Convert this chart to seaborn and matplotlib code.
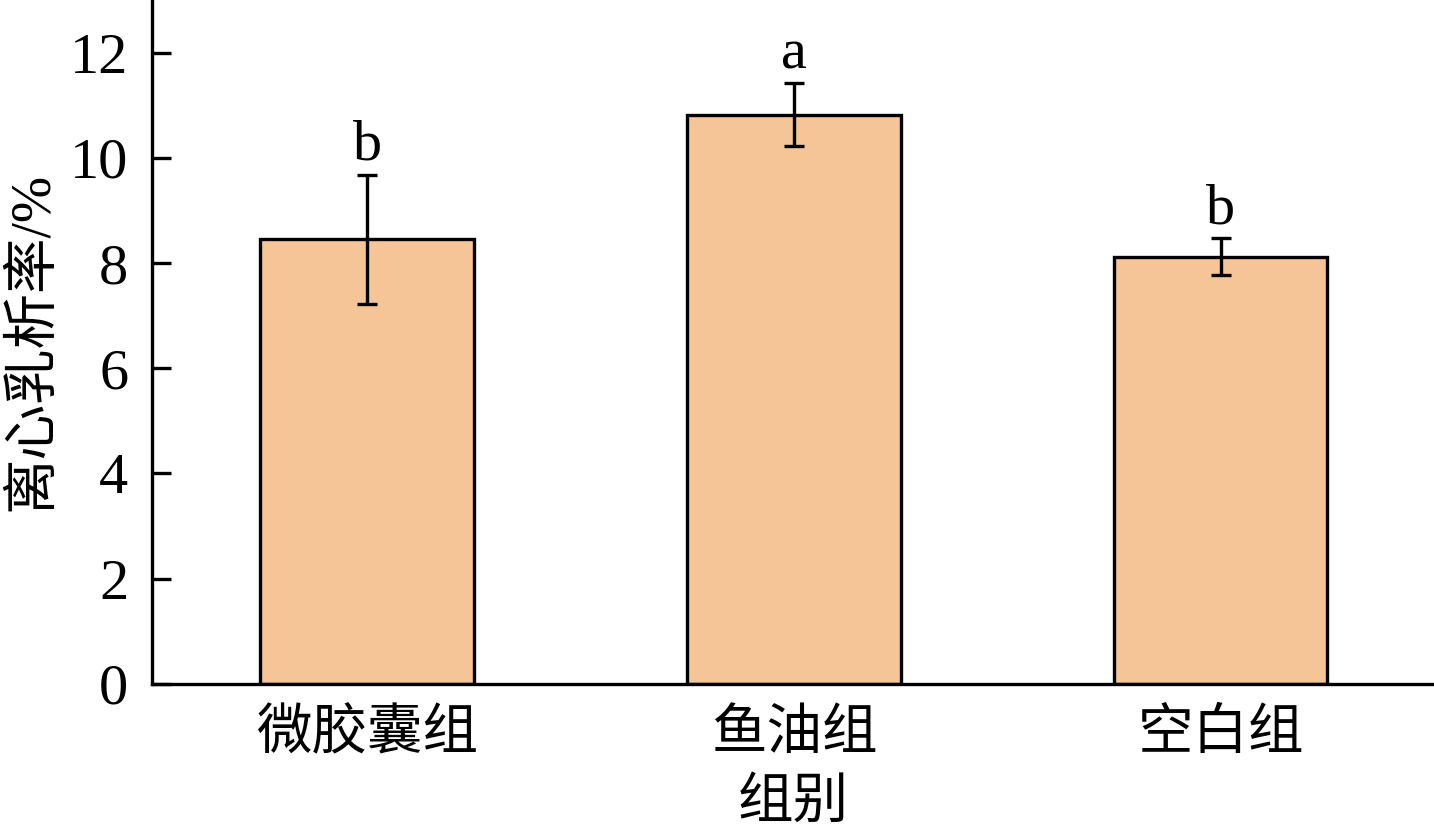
import pandas as pd
import seaborn as sns
import matplotlib
matplotlib.use('Agg')
import matplotlib.pyplot as plt

groups = ['微胶囊组', '鱼油组', '空白组']
means = [8.45, 10.82, 8.12]
sds = [1.23, 0.60, 0.35]
letters = ['b', 'a', 'b']


def main():
    df = pd.DataFrame({'group': groups, 'value': means})

    sns.set_theme(style='ticks', rc={'text.color': 'black', 'axes.labelcolor': 'black',
                                     'xtick.color': 'black', 'ytick.color': 'black',
                                     'axes.edgecolor': 'black'})
    plt.rcParams['font.family'] = ['Liberation Serif', 'Noto Sans CJK SC']

    fig = plt.figure(figsize=(14.34, 8.35), dpi=100)
    ax = fig.add_axes([0.106, 0.181, 0.894, 0.819])

    sns.barplot(data=df, x='group', y='value', color='#F5C598', saturation=1,
                width=0.5, edgecolor='black', linewidth=2.4, errorbar=None, ax=ax)
    ax.errorbar(groups, means, yerr=sds, fmt='none', ecolor='black',
                elinewidth=2.4, capsize=7.5, capthick=2.4, zorder=3)

    # Significance letters above the error bars.
    for g, m, s, t in zip(groups, means, sds, letters):
        ax.annotate(t, (g, m + s), xytext=(0, 2), textcoords='offset points',
                    ha='center', va='bottom', fontsize=42)

    ax.set_ylim(0, 13)
    ax.set_xlim(-0.504, 2.5)
    ax.set_yticks([0, 2, 4, 6, 8, 10, 12])
    ax.set_xlabel('组别', fontsize=40, labelpad=12)
    ax.set_ylabel('离心乳析率/%', fontsize=40, labelpad=8)
    ax.tick_params(direction='in', length=14, width=2.4, labelsize=42, pad=17)
    ax.tick_params(axis='x', labelsize=40, pad=18)
    for side in ['top', 'right']:
        ax.spines[side].set_visible(False)
    for side in ['left', 'bottom']:
        ax.spines[side].set_linewidth(2.4)

    fig.savefig('out.png', dpi=100)


if __name__ == "__main__":
    main()
